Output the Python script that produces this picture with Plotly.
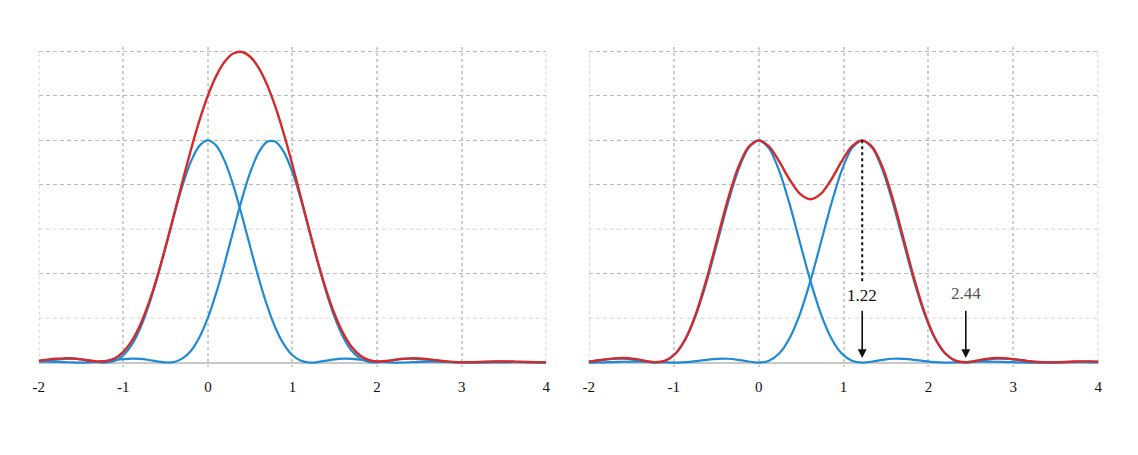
import plotly.graph_objects as go

# ---------------- data ----------------
# left panel: two Airy profiles 0.75 apart and their sum
x_left = [-2.0, -1.9, -1.8, -1.7, -1.6, -1.5, -1.4, -1.3, -1.2, -1.1, -1.0, -0.9, -0.8, -0.7, -0.6,
          -0.5, -0.4, -0.3, -0.2, -0.1, 0.0, 0.1, 0.2, 0.3, 0.4, 0.5, 0.6, 0.7, 0.8, 0.9, 1.0,
          1.1, 1.2, 1.3, 1.4, 1.5, 1.6, 1.7, 1.8, 1.9, 2.0, 2.1, 2.2, 2.3, 2.4, 2.5, 2.6, 2.7,
          2.8, 2.9, 3.0, 3.1, 3.2, 3.3, 3.4, 3.5, 3.6, 3.7, 3.8, 3.9, 4.0]
blue_a_left = [0.0046, 0.0090, 0.0135, 0.0168, 0.0173, 0.0143, 0.0085, 0.0023, 0.0002, 0.0081,
               0.0328, 0.0803, 0.1544, 0.2558, 0.3806, 0.5209, 0.6645, 0.7975, 0.9053, 0.9756,
               1.0000,
               0.9756, 0.9053, 0.7975, 0.6645, 0.5209, 0.3806, 0.2558, 0.1544, 0.0803, 0.0328,
               0.0081, 0.0002, 0.0023, 0.0085, 0.0143, 0.0173, 0.0168, 0.0135, 0.0090, 0.0046,
               0.0015, 0.0001, 0.0003, 0.0015, 0.0029, 0.0039, 0.0041, 0.0036, 0.0026, 0.0014,
               0.0005, 0.0000, 0.0001, 0.0005, 0.0010, 0.0014, 0.0016, 0.0014, 0.0011, 0.0006]
blue_b_left = [0.0040, 0.0041, 0.0035, 0.0022, 0.0008, 0.0000, 0.0005, 0.0028, 0.0067, 0.0113,
               0.0154, 0.0175, 0.0162, 0.0116, 0.0052, 0.0004, 0.0025, 0.0185, 0.0534, 0.1139,
               0.2018, 0.3157, 0.4495, 0.5931, 0.7332, 0.8553, 0.9458, 0.9938, 0.9938, 0.9458,
               0.8553, 0.7332, 0.5931, 0.4495, 0.3157, 0.2018, 0.1139, 0.0534, 0.0185, 0.0025,
               0.0004, 0.0052, 0.0116, 0.0162, 0.0175, 0.0154, 0.0113, 0.0067, 0.0028, 0.0005,
               0.0000, 0.0008, 0.0022, 0.0035, 0.0041, 0.0040, 0.0031, 0.0020, 0.0009, 0.0002,
               0.0000]
red_left = [0.0086, 0.0131, 0.0170, 0.0190, 0.0181, 0.0143, 0.0090, 0.0051, 0.0069, 0.0194,
            0.0482, 0.0978, 0.1706, 0.2674, 0.3858, 0.5213, 0.6670, 0.8160, 0.9587, 1.0895,
            1.2018, 1.2913, 1.3548, 1.3906, 1.3977, 1.3762, 1.3264, 1.2496, 1.1482, 1.0261,
            0.8881, 0.7413, 0.5933, 0.4518, 0.3242, 0.2161, 0.1312, 0.0702, 0.0320, 0.0115,
            0.0050, 0.0067, 0.0117, 0.0165, 0.0190, 0.0183, 0.0152, 0.0108, 0.0064, 0.0031,
            0.0014, 0.0013, 0.0022, 0.0036, 0.0046, 0.0050, 0.0045, 0.0036, 0.0023, 0.0013,
            0.0006]

# right panel: two Airy profiles 1.22 apart (Rayleigh criterion) and their sum
x_right = [-2.074, -1.952, -1.830, -1.708, -1.586, -1.464, -1.342, -1.220, -1.098, -0.976,
           -0.854, -0.732, -0.610, -0.488, -0.366, -0.244, -0.122, 0.0, 0.122, 0.244, 0.366,
           0.488, 0.610, 0.732, 0.854, 0.976, 1.098, 1.220, 1.342, 1.464, 1.586, 1.708, 1.830,
           1.952, 2.074, 2.196, 2.318, 2.440, 2.562, 2.684, 2.806, 2.928, 3.050, 3.172, 3.294,
           3.416, 3.538, 3.660, 3.782, 3.904, 4.026]
blue_a_right = [0.0021, 0.0066, 0.0123, 0.0166, 0.0171, 0.0124, 0.0047, 0.0000, 0.0085, 0.0419,
                0.1109, 0.2205, 0.3673, 0.5382, 0.7117, 0.8618, 0.9638, 1.0000, 0.9638, 0.8618,
                0.7117, 0.5382, 0.3673, 0.2205, 0.1109, 0.0419, 0.0085, 0.0000, 0.0047, 0.0124,
                0.0171, 0.0166, 0.0123, 0.0066, 0.0021, 0.0001, 0.0005, 0.0021, 0.0036, 0.0042,
                0.0036, 0.0022, 0.0009, 0.0001, 0.0001, 0.0006, 0.0012, 0.0016, 0.0015, 0.0011,
                0.0005]
blue_b_right = [0.0001, 0.0001, 0.0009, 0.0022, 0.0036, 0.0042, 0.0036, 0.0021, 0.0005, 0.0001,
                0.0021, 0.0066, 0.0123, 0.0166, 0.0171, 0.0124, 0.0047, 0.0000, 0.0085, 0.0419,
                0.1109, 0.2205, 0.3673, 0.5382, 0.7117, 0.8618, 0.9638, 1.0000, 0.9638, 0.8618,
                0.7117, 0.5382, 0.3673, 0.2205, 0.1109, 0.0419, 0.0085, 0.0000, 0.0047, 0.0124,
                0.0171, 0.0166, 0.0123, 0.0066, 0.0021, 0.0001, 0.0005, 0.0021, 0.0036, 0.0042,
                0.0036]
red_right = [0.0022, 0.0067, 0.0132, 0.0188, 0.0207, 0.0166, 0.0083, 0.0021, 0.0090, 0.0420,
             0.1130, 0.2271, 0.3796, 0.5548, 0.7288, 0.8742, 0.9685, 1.0000, 0.9723, 0.9037,
             0.8226, 0.7587, 0.7346, 0.7587, 0.8226, 0.9037, 0.9723, 1.0000, 0.9685, 0.8742,
             0.7288, 0.5548, 0.3796, 0.2271, 0.1130, 0.0420, 0.0090, 0.0021, 0.0083, 0.0166,
             0.0207, 0.0188, 0.0132, 0.0067, 0.0022, 0.0007, 0.0017, 0.0037, 0.0051, 0.0053,
             0.0041]

x_ticks = [-2, -1, 0, 1, 2, 3, 4]
x_tick_labels = ["-2", "-1", "0", "1", "2", "3", "4"]
x_edges = [-2, 4]
y_grid_dark = [0.4, 0.8, 1.0, 1.2, 1.4]
y_grid_light = [0.2, 0.6]

marker_x = [1.22, 2.44]
marker_labels = ["1.22", "2.44"]
marker_label_y = [0.30, 0.31]
marker_label_colors = ["#111111", "#555555"]
arrow_top = 0.24
arrow_tip = 0.02
dotted_top = 1.0
dotted_bottom = 0.365

# ---------------- figure ----------------
BLUE = "#1f8ad6"
RED = "#d42a2a"
W, H = 1122, 439          # page body has an 8 px margin; 8 + 1122 + 8 = 1138
OFF = 8

fig = go.Figure()
panels = [("x", "y", x_left, blue_a_left, blue_b_left, red_left),
          ("x2", "y2", x_right, blue_a_right, blue_b_right, red_right)]
for xa, ya, xs, ba, bb, rd in panels:
    for ys in (ba, bb):
        fig.add_trace(go.Scatter(x=xs, y=ys, mode="lines", xaxis=xa, yaxis=ya,
                                 line=dict(color=BLUE, width=2.2, shape="spline", smoothing=0.8),
                                 showlegend=False, hoverinfo="skip"))
    fig.add_trace(go.Scatter(x=xs, y=rd, mode="lines", xaxis=xa, yaxis=ya,
                             line=dict(color=RED, width=2.4, shape="spline", smoothing=0.8),
                             showlegend=False, hoverinfo="skip"))

xaxis_common = dict(range=[-2, 4], tickmode="array", tickvals=x_ticks, ticktext=x_tick_labels,
                    showgrid=True, gridcolor="#cdcdcd", griddash="dot", gridwidth=1.5,
                    zeroline=False, showline=False, ticks="", ticklabelstandoff=9,
                    tickfont=dict(family="Liberation Serif", size=15, color="#111111"),
                    fixedrange=True)
yaxis_common = dict(range=[-0.02, 1.42], tickmode="array", tickvals=y_grid_dark,
                    showticklabels=False, showgrid=True, gridcolor="#b9b9b9",
                    griddash="4px,3px", gridwidth=1.2, zeroline=True,
                    zerolinecolor="#c8c8c8", zerolinewidth=2, showline=False, ticks="",
                    fixedrange=True)

fig.update_layout(
    width=W, height=H,
    margin=dict(l=0, r=0, t=47 - OFF, b=H - (367 - OFF)),
    paper_bgcolor="white", plot_bgcolor="white",
    xaxis=dict(domain=[(33 - OFF) / W, (545 - OFF) / W], anchor="y", **xaxis_common),
    yaxis=dict(domain=[0, 1], anchor="x", **yaxis_common),
    xaxis2=dict(domain=[(588 - OFF) / W, (1102 - OFF) / W], anchor="y2", **xaxis_common),
    yaxis2=dict(domain=[0, 1], anchor="x2", **yaxis_common),
)

for xr, yr in (("x", "y"), ("x2", "y2")):
    # lighter horizontal grid lines
    for gy in y_grid_light:
        fig.add_shape(type="line", xref=xr, yref=yr, x0=-2, x1=4, y0=gy, y1=gy,
                      line=dict(color="#dedede", width=1.2, dash="4px,3px"), layer="below")
    # vertical grid lines on the plot edges
    for ex in x_edges:
        fig.add_shape(type="line", xref=xr, yref=yr, x0=ex, x1=ex, y0=0, y1=1.4,
                      line=dict(color="#c4c4c4", width=1.5, dash="3px,3px"), layer="below")

# dotted drop line from the second peak
fig.add_shape(type="line", xref="x2", yref="y2", x0=marker_x[0], x1=marker_x[0],
              y0=dotted_top, y1=dotted_bottom, line=dict(color="#111111", width=2, dash="dot"))

for mx, lab, ly, col in zip(marker_x, marker_labels, marker_label_y, marker_label_colors):
    fig.add_annotation(x=mx, y=arrow_tip, ax=mx, ay=arrow_top, xref="x2", yref="y2",
                       axref="x2", ayref="y2", text="", showarrow=True, arrowhead=2,
                       arrowsize=1.1, arrowwidth=1.6, arrowcolor="#111111")
    fig.add_annotation(x=mx, y=ly, xref="x2", yref="y2", text=lab, showarrow=False,
                       font=dict(family="Liberation Serif", size=17, color=col))

fig.write_html("out.html", config={"displayModeBar": False})
